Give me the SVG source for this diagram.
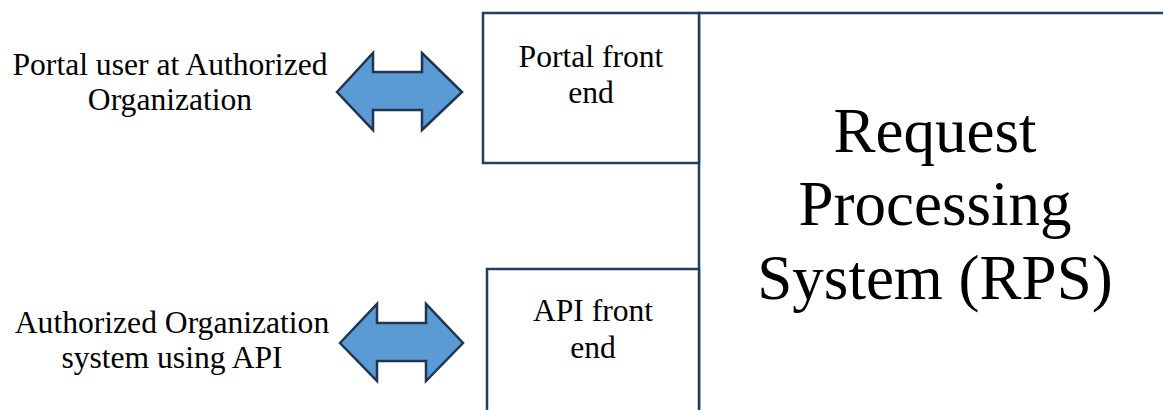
<svg xmlns="http://www.w3.org/2000/svg" width="1163" height="410" viewBox="0 0 1163 410">
<style>
.box{fill:#fff;stroke:#223f5e;stroke-width:2.5}
.ln{fill:none;stroke:#223f5e;stroke-width:2.5}
.arr{fill:#5b9bd5;stroke:#1f3550;stroke-width:2.5;stroke-linejoin:miter}
.t{font-family:"Liberation Serif","Times New Roman",serif;font-size:31.6px;fill:#000;text-anchor:middle}
.big{font-family:"Liberation Serif","Times New Roman",serif;font-size:63px;fill:#000;text-anchor:middle}
</style>
<rect width="1163" height="410" fill="#fff"/>
<g id="rps">
<path class="ln" d="M699 410 V13 H1163"/>
<text class="big" x="935" y="152">Request</text>
<text class="big" x="935" y="225">Processing</text>
<text class="big" x="935" y="299">System (RPS)</text>
</g>
<g id="portal-front-end">
<rect class="box" x="483" y="13" width="216" height="150"/>
<text class="t" x="591" y="67">Portal front</text>
<text class="t" x="591" y="103">end</text>
</g>
<g id="api-front-end">
<path class="box" d="M487 412 V269 H699 V412"/>
<text class="t" x="593" y="321">API front</text>
<text class="t" x="593" y="358">end</text>
</g>
<g id="portal-user">
<text class="t" x="170" y="75">Portal user at Authorized</text>
<text class="t" x="170" y="110">Organization</text>
</g>
<g id="api-system">
<text class="t" x="172" y="333">Authorized Organization</text>
<text class="t" x="172" y="368">system using API</text>
</g>
<g id="connectors">
<path class="arr" d="M337 92 L373 53 V72 H422 V53 L462 92 L422 130 V110 H373 V130 Z"/>
<path class="arr" d="M340 343 L377 304 V323 H426 V304 L463 343 L426 381 V361 H377 V381 Z"/>
</g>
</svg>
